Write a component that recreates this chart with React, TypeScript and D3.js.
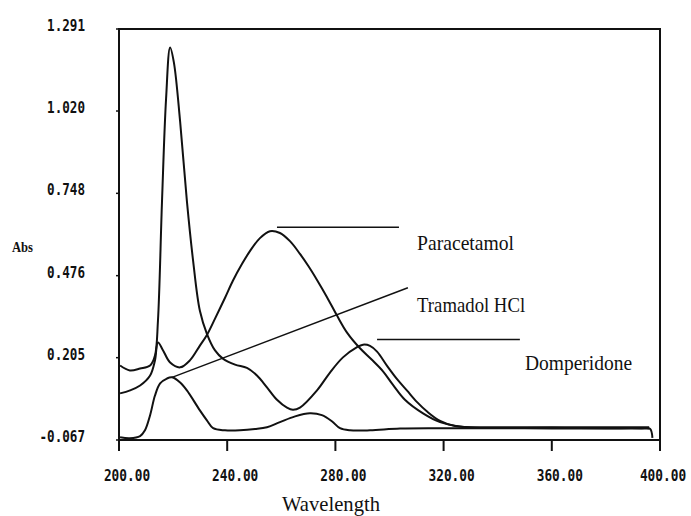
import React from 'react';
import * as d3 from 'd3';

// scanned UV overlay spectrum: absorbance vs wavelength (nm)
const yTicks = [1.291, 1.02, 0.748, 0.476, 0.205, -0.067];
const yTickLabels = ['1.291', '1.020', '0.748', '0.476', '0.205', '-0.067'];
const xTicks = [200, 240, 280, 320, 360, 400];
const xTickLabels = ['200.00', '240.00', '280.00', '320.00', '360.00', '400.00'];

const domperidone: [number, number][] = [
  [200.4, 0.179], [204, 0.163], [207.8, 0.169], [211.5, 0.179], [213.3, 0.212],
  [214.4, 0.327], [215.9, 0.722], [217.4, 1.06], [218.9, 1.23], [220.3, 1.18],
  [222.6, 0.985], [225.1, 0.722], [227.4, 0.525], [229.9, 0.36], [232.5, 0.284],
  [235.5, 0.229], [238.4, 0.202], [242.9, 0.182], [247.3, 0.171], [251, 0.146],
  [254.7, 0.107], [258.4, 0.066], [262.1, 0.04], [264.3, 0.033], [266.9, 0.04],
  [273.2, 0.097], [278, 0.156], [282.8, 0.206], [288, 0.24], [290.2, 0.248],
  [292.8, 0.244], [295.4, 0.225], [299.1, 0.178], [302.8, 0.134], [306.5, 0.096],
  [310.2, 0.058], [313.9, 0.027], [318.7, -0.004], [324.2, -0.021], [333.5, -0.027],
  [350, -0.027], [365, -0.027], [380, -0.028], [393, -0.028], [396.3, -0.03], [397.2, -0.06],
];

const paracetamol: [number, number][] = [
  [200.4, 0.087], [204.1, 0.097], [207.8, 0.113], [211.5, 0.146], [213.3, 0.196],
  [214.4, 0.255], [216.3, 0.229], [218.9, 0.189], [222.6, 0.173], [226.2, 0.196],
  [229.9, 0.245], [232.5, 0.28], [235.5, 0.334], [239.2, 0.403], [242.1, 0.459],
  [245.5, 0.515], [248.4, 0.557], [252.1, 0.6], [255.8, 0.623], [259.5, 0.617],
  [263.2, 0.59], [266.9, 0.548], [270, 0.508], [273.2, 0.462], [276.9, 0.405],
  [280.6, 0.344], [284.3, 0.288], [289.1, 0.236], [293.5, 0.198], [297.6, 0.16],
  [301.3, 0.115], [305.7, 0.066], [312.4, 0.021], [318.7, -0.008], [326.1, -0.022],
  [340, -0.025], [355, -0.025], [370, -0.025], [385, -0.025], [396, -0.025],
];

const tramadol: [number, number][] = [
  [200.4, -0.058], [204, -0.061], [207.8, -0.054], [209.6, -0.035], [211.5, 0.015],
  [213.3, 0.08], [215.2, 0.12], [217.7, 0.136], [219.6, 0.14], [222.6, 0.123],
  [225.1, 0.097], [229.9, 0.031], [232.5, -0.002], [234.8, -0.028], [239.2, -0.035],
  [244.7, -0.035], [250.3, -0.031], [254.7, -0.025], [259.5, -0.008], [265.1, 0.011],
  [270.6, 0.021], [275, 0.015], [278.7, -0.005], [281.7, -0.028], [285.4, -0.035],
  [292.8, -0.035], [303.9, -0.029], [320, -0.028], [340, -0.028], [360, -0.029],
  [380, -0.029], [396, -0.029],
];

// leader lines [w1, a1, w2, a2] and labels [w, a]
const leaders: { name: string; line: [number, number, number, number]; at: [number, number]; len: number }[] = [
  { name: 'Paracetamol', line: [258.4, 0.636, 303.5, 0.636], at: [310.2, 0.56], len: 97 },
  { name: 'Tramadol HCl', line: [219.6, 0.14, 306.8, 0.436], at: [310.2, 0.355], len: 108 },
  { name: 'Domperidone', line: [295.4, 0.265, 348.2, 0.265], at: [350.1, 0.163], len: 107 },
];

const W = 691;
const H = 516;

export default function App() {
  const x = d3.scaleLinear().domain([200, 400]).range([119, 660]);
  const y = d3.scaleLinear().domain([-0.067, 1.291]).range([440, 29]);

  const line = d3
    .line<[number, number]>()
    .x((d) => x(d[0]))
    .y((d) => y(d[1]))
    .curve(d3.curveCatmullRom.alpha(0.5));

  const mono = "'DejaVu Sans Mono', monospace";
  const serif = "'Liberation Serif', 'Times New Roman', serif";

  return (
    <svg width={W} height={H} style={{ position: 'absolute', left: 0, top: 0, background: '#fff' }}>
      {/* frame */}
      <rect x={x(200)} y={y(1.291)} width={x(400) - x(200)} height={y(-0.067) - y(1.291)}
        fill="none" stroke="#111" strokeWidth={2} />

      {/* y ticks */}
      {yTicks.map((t, i) => (
        <g key={'y' + i}>
          <line x1={x(200) - 3} x2={x(200)} y1={y(t)} y2={y(t)} stroke="#111" strokeWidth={1.5} />
          <text transform={`translate(85,${y(t) + 2}) scale(1,1.2)`} textAnchor="end" fontFamily={mono}
            fontWeight="bold" fontSize={12.6} fill="#111">
            {yTickLabels[i]}
          </text>
        </g>
      ))}

      {/* x ticks */}
      {xTicks.map((t, i) => (
        <g key={'x' + i}>
          <line x1={x(t)} x2={x(t)} y1={y(-0.067)} y2={y(-0.067) + 11} stroke="#111" strokeWidth={2} />
          <text transform={`translate(${Math.min(x(t) + 8, 663)},481) scale(1,1.3)`} textAnchor="middle"
            fontFamily={mono} fontWeight="bold" fontSize={12.8} fill="#111">
            {xTickLabels[i]}
          </text>
        </g>
      ))}

      <text x={12} y={252} fontFamily={serif} fontWeight="bold" fontSize={14}
        textLength={21} lengthAdjust="spacingAndGlyphs" fill="#111">Abs</text>
      <text x={282} y={511} fontFamily={serif} fontSize={22}
        textLength={98} lengthAdjust="spacingAndGlyphs" fill="#111">Wavelength</text>

      {/* spectra */}
      {[domperidone, paracetamol, tramadol].map((s, i) => (
        <path key={'s' + i} d={line(s) || ''} fill="none" stroke="#111" strokeWidth={2} strokeLinejoin="round" />
      ))}

      {/* labels */}
      {leaders.map((l) => (
        <g key={l.name}>
          <line x1={x(l.line[0])} y1={y(l.line[1])} x2={x(l.line[2])} y2={y(l.line[3])}
            stroke="#111" strokeWidth={1.5} />
          <text x={x(l.at[0])} y={y(l.at[1])} fontFamily={serif} fontSize={22}
            textLength={l.len} lengthAdjust="spacingAndGlyphs" fill="#111">{l.name}</text>
        </g>
      ))}
    </svg>
  );
}
